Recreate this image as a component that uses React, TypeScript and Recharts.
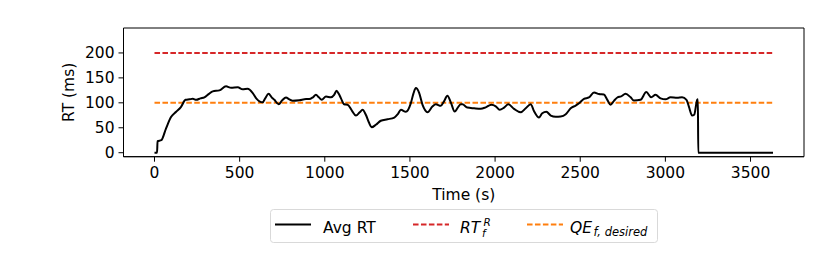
import { Legend, Line, LineChart, ReferenceArea, XAxis, YAxis } from "recharts"

const FONT = "'DejaVu Sans', sans-serif"

// time in seconds, smoothed average response time in ms
const times = [
  0, 15, 18, 40, 68, 98, 127, 156, 182, 205, 225, 245, 270, 293, 320, 342, 381, 420, 450, 489,
  518, 547, 577, 600, 616, 635, 650, 670, 688, 704, 729, 750, 772, 792, 811, 850, 890, 909, 930, 948,
  965, 982, 1007, 1036, 1055, 1069, 1082, 1095, 1114, 1134, 1160, 1183, 1205, 1222, 1241, 1260, 1275, 1300, 1329, 1368,
  1408, 1430, 1447, 1476, 1505, 1520, 1535, 1554, 1574, 1590, 1603, 1632, 1652, 1681, 1700, 1720, 1740, 1763, 1780, 1798,
  1808, 1837, 1877, 1916, 1945, 1978, 2004, 2027, 2053, 2078, 2111, 2151, 2180, 2209, 2229, 2258, 2277, 2301, 2327, 2356,
  2385, 2415, 2444, 2473, 2493, 2522, 2551, 2581, 2610, 2639, 2659, 2678, 2698, 2718, 2740, 2766, 2796, 2815, 2854, 2888,
  2917, 2942, 2972, 3001, 3030, 3069, 3098, 3124, 3138, 3157, 3169, 3187, 3191, 3193, 3632,
]
const avgRt = [
  0, 0, 23, 25, 49, 72, 82, 92, 106, 107, 108, 106, 109, 111, 118, 123, 125, 133, 130, 131,
  127, 128, 119.5, 108, 103, 101, 109, 118, 111, 106, 97, 105, 110.5, 107, 104, 105, 107.5, 107.5, 111, 116,
  111, 106, 112.7, 111, 116, 124, 118, 109, 97, 96, 84, 74.5, 81, 86, 76, 60, 51, 56, 64, 67,
  70.5, 78, 86, 82, 99, 118, 129.6, 120, 96, 85, 81, 92.5, 97, 94, 103, 114, 101, 82.5, 90, 97,
  97, 90.5, 89, 88, 91, 96, 93, 86, 90.5, 97, 88, 81, 89, 97, 83, 70.5, 79, 82, 74.5, 72,
  72.5, 77, 89, 94.5, 99, 108, 110.7, 120.7, 117.5, 116.5, 106, 96, 104, 110.7, 113, 118, 111, 104.6, 106, 121.5,
  111, 116, 109, 107, 111, 110, 111, 106, 92.5, 74.5, 76, 106, 107, 0, 0,
]
const rtRequired = 200
const qeDesired = 100

const xTicks = [0, 500, 1000, 1500, 2000, 2500, 3000, 3500]
const yTicks = [0, 50, 100, 150, 200]
const xDomain = [-182, 3814]
const yDomain = [-8, 250]

const data = times.map((t, i) => ({ t, avg: avgRt[i], rtR: rtRequired, qe: qeDesired }))

const RED = "#d62728"
const ORANGE = "#ff7f0e"
const DASH = "5.55 2.4"

function LegendBox() {
  return (
    <svg width={388} height={34} style={{ display: "block", fontFamily: FONT }}>
      <rect x={0.5} y={0.5} width={387} height={33} rx={3} fill="#fff" stroke="#d9d9d9" />
      <line x1={5} x2={41} y1={15.5} y2={15.5} stroke="#000" strokeWidth={2} />
      <text x={53} y={23.5} fontSize={15.5} fill="#000">Avg RT</text>
      <line x1={143} x2={179} y1={15.5} y2={15.5} stroke={RED} strokeWidth={2} strokeDasharray={DASH} />
      <text x={190} y={23.5} fontSize={15.5} fontStyle="italic" fill="#000">RT</text>
      <text x={213.5} y={17} fontSize={10.5} fontStyle="italic" fill="#000">R</text>
      <text x={212} y={28} fontSize={10.5} fontStyle="italic" fill="#000">f</text>
      <line x1={257} x2={293} y1={15.5} y2={15.5} stroke={ORANGE} strokeWidth={2} strokeDasharray={DASH} />
      <text x={300} y={23.5} fontSize={15.5} fontStyle="italic" fill="#000">QE</text>
      <text x={323.5} y={26.5} fontSize={11.5} fontStyle="italic" fill="#000">f, desired</text>
    </svg>
  )
}

export default function App() {
  const tickStyle = { fill: "#000", fontSize: 15.5, fontFamily: FONT }
  return (
    <div style={{ width: 830, height: 270, position: "relative", background: "#fff" }}>
      <style>{"body{margin:0}"}</style>
      <LineChart width={830} height={270} data={data} margin={{ top: 28, right: 26, left: 73.5, bottom: 83.3 }}>
        <ReferenceArea x1={xDomain[0]} x2={xDomain[1]} y1={yDomain[0]} y2={yDomain[1]} fill="none" stroke="#000" strokeWidth={1} />
        <XAxis
          dataKey="t"
          type="number"
          domain={xDomain}
          ticks={xTicks}
          height={30}
          tickSize={5}
          tickMargin={5.5}
          stroke="#000"
          tick={tickStyle}
          allowDataOverflow
          label={{
            content: ({ viewBox }: any) => (
              <text x={viewBox.x + viewBox.width / 2} y={viewBox.y + 43.5} textAnchor="middle" fontSize={15.5} fontFamily={FONT} fill="#000">
                Time (s)
              </text>
            ),
          }}
        />
        <YAxis
          type="number"
          domain={yDomain}
          ticks={yTicks}
          width={50}
          tickSize={5}
          tickMargin={4}
          stroke="#000"
          tick={tickStyle}
          allowDataOverflow
          label={{
            content: ({ viewBox }: any) => {
              const x = viewBox.x + 0.5
              const y = viewBox.y + viewBox.height / 2
              return (
                <text x={x} y={y} transform={`rotate(-90 ${x} ${y})`} textAnchor="middle" fontSize={15.5} fontFamily={FONT} fill="#000">
                  RT (ms)
                </text>
              )
            },
          }}
        />
        <Line dataKey="rtR" stroke={RED} strokeWidth={2} strokeDasharray={DASH} dot={false} isAnimationActive={false} type="linear" />
        <Line dataKey="qe" stroke={ORANGE} strokeWidth={2} strokeDasharray={DASH} dot={false} isAnimationActive={false} type="linear" />
        <Line dataKey="avg" stroke="#000" strokeWidth={2} dot={false} isAnimationActive={false} type="monotone" />
        <Legend
          layout="horizontal"
          verticalAlign="middle"
          align="center"
          wrapperStyle={{ left: 270, top: 209, width: 388, height: 34 }}
          content={() => <LegendBox />}
        />
      </LineChart>
    </div>
  )
}
